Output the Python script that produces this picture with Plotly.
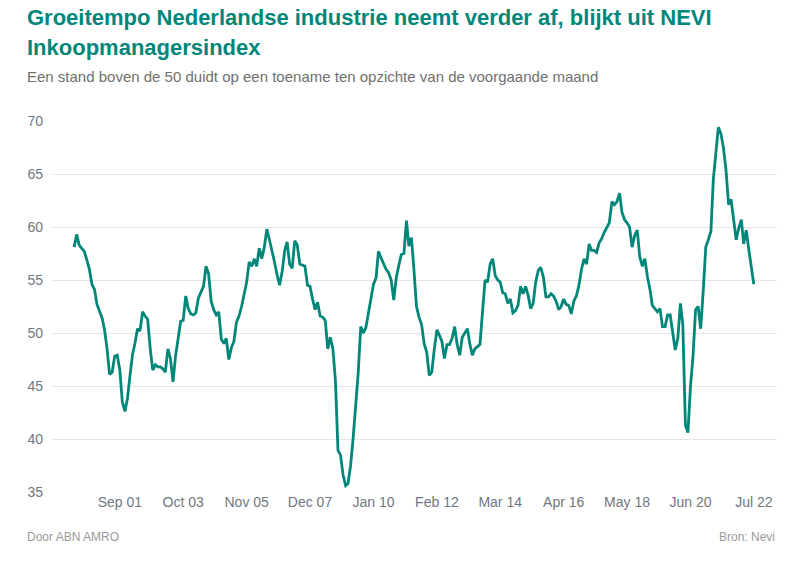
import pandas as pd
import plotly.graph_objects as go

# NEVI Inkoopmanagersindex, maandcijfers (maart 2000 t/m juli 2022)
pmi_2000 = [58.1, 59.3, 58.3, 58.0, 57.7, 56.9, 56.0, 54.6, 54.1, 52.7]  # mrt-dec
pmi_2001 = [52.0, 51.4, 50.3, 48.5, 46.1, 46.3, 47.8, 47.9, 46.5, 43.5, 42.6, 43.8]
pmi_2002 = [46.0, 48.0, 49.0, 50.4, 50.2, 52.0, 51.6, 51.3, 48.5, 46.5, 47.0, 46.8]
pmi_2003 = [46.8, 46.6, 46.3, 48.5, 47.6, 45.4, 47.8, 49.5, 51.1, 51.2, 53.5, 52.3]
pmi_2004 = [51.8, 51.7, 51.9, 53.3, 53.8, 54.4, 56.3, 55.6, 53.0, 52.2, 51.7, 52.0]
pmi_2005 = [49.4, 49.0, 49.5, 47.5, 48.6, 49.2, 51.0, 51.6, 52.5, 53.7, 54.8, 56.7]
pmi_2006 = [56.3, 57.0, 56.3, 58.0, 57.0, 58.1, 59.8, 58.8, 57.8, 56.7, 55.5, 54.5]
pmi_2007 = [55.8, 57.8, 58.6, 56.5, 56.1, 58.7, 58.3, 56.5, 56.4, 56.3, 54.5, 54.4]
pmi_2008 = [53.2, 52.2, 52.9, 51.6, 51.5, 51.2, 48.5, 49.6, 48.5, 45.5, 38.9, 38.5]
pmi_2009 = [36.6, 35.6, 35.8, 37.5, 40.0, 42.8, 46.2, 50.6, 50.0, 50.5, 51.9, 53.0]
pmi_2010 = [54.6, 55.2, 57.7, 57.1, 56.5, 56.0, 55.7, 55.0, 53.1, 55.2, 56.4, 57.4]
pmi_2011 = [57.5, 60.6, 58.2, 59.0, 56.0, 52.5, 51.5, 50.8, 49.0, 48.2, 46.0, 46.3]
pmi_2012 = [48.5, 50.3, 49.8, 49.2, 47.6, 48.9, 48.9, 49.5, 50.6, 48.9, 47.9, 49.6]
pmi_2013 = [50.0, 50.4, 49.0, 47.9, 48.5, 48.7, 48.9, 52.0, 55.0, 54.8, 56.5, 57.0]
pmi_2014 = [55.4, 55.0, 54.8, 53.8, 53.7, 52.8, 53.2, 51.9, 52.1, 52.6, 54.4, 53.7]
pmi_2015 = [54.4, 53.5, 52.3, 52.8, 54.8, 55.9, 56.2, 55.3, 53.4, 53.4, 53.7, 53.5]
pmi_2016 = [53.0, 52.2, 52.5, 53.2, 52.7, 52.6, 51.8, 53.0, 53.5, 54.5, 56.0, 57.0]
pmi_2017 = [56.5, 58.4, 57.8, 57.8, 57.6, 58.5, 58.9, 59.5, 60.0, 60.4, 62.4, 62.1]
pmi_2018 = [62.4, 63.2, 61.4, 60.7, 60.4, 60.0, 58.1, 59.2, 59.7, 57.2, 56.3, 57.0]
pmi_2019 = [55.3, 54.1, 52.6, 52.3, 52.0, 52.3, 50.6, 50.6, 51.7, 51.7, 50.0, 48.4]
pmi_2020 = [49.5, 52.8, 50.8, 41.3, 40.6, 45.0, 47.8, 52.2, 52.5, 50.4, 54.0, 58.1]
pmi_2021 = [58.8, 59.6, 64.4, 67.1, 69.4, 68.8, 67.5, 65.4, 62.1, 62.6, 60.6, 58.8]
pmi_2022 = [59.9, 60.7, 58.4, 59.7, 57.9, 56.0, 54.6]  # jan-jul

first_month = "2000-03-01"

tick_dates = ["2001-09-01", "2003-10-01", "2005-11-01", "2007-12-01", "2010-01-01",
              "2012-02-01", "2014-03-01", "2016-04-01", "2018-05-01", "2020-06-01",
              "2022-07-01"]
tick_text = ["Sep 01", "Oct 03", "Nov 05", "Dec 07", "Jan 10", "Feb 12",
             "Mar 14", "Apr 16", "May 18", "Jun 20", "Jul 22"]
y_ticks = [35, 40, 45, 50, 55, 60, 65, 70]

pmi = (pmi_2000 + pmi_2001 + pmi_2002 + pmi_2003 + pmi_2004 + pmi_2005 + pmi_2006
       + pmi_2007 + pmi_2008 + pmi_2009 + pmi_2010 + pmi_2011 + pmi_2012 + pmi_2013
       + pmi_2014 + pmi_2015 + pmi_2016 + pmi_2017 + pmi_2018 + pmi_2019 + pmi_2020
       + pmi_2021 + pmi_2022)
months = pd.date_range(first_month, periods=len(pmi), freq="MS")

teal = "#00877a"
grey = "#6e7781"
font = "Liberation Sans, Arial, sans-serif"

# plot area in page pixels
W, H = 801, 577
L, R, T, B = 52, 777, 121, 492


def px(x):
    return (x - L) / (R - L)


def py(y):
    return (B - y) / (B - T)


fig = go.Figure()
fig.add_trace(go.Scatter(x=months, y=pmi, mode="lines",
                         line=dict(color=teal, width=2.8),
                         hoverinfo="x+y", showlegend=False))

fig.update_layout(
    width=W, height=H,
    margin=dict(l=L, r=W - R, t=T, b=H - B),
    paper_bgcolor="white", plot_bgcolor="white",
    font=dict(family=font, color=grey, size=14),
    xaxis=dict(range=["1999-06-10", "2023-04-05"], tickvals=tick_dates,
               ticktext=tick_text, showgrid=False, zeroline=False,
               showline=False, ticks="", tickfont=dict(size=14, color=grey)),
    yaxis=dict(range=[35, 70], tickvals=y_ticks, showgrid=True,
               gridcolor="#e5e5e5", gridwidth=1, zeroline=False,
               showline=False, ticks="", ticklabelstandoff=8,
               tickfont=dict(size=14, color=grey)),
)

notes = [
    dict(text="<b>Groeitempo Nederlandse industrie neemt verder af, blijkt uit NEVI</b>",
         x=px(25), y=py(17), xanchor="left", size=22, color=teal),
    dict(text="<b>Inkoopmanagersindex</b>",
         x=px(25), y=py(47), xanchor="left", size=22, color=teal),
    dict(text="Een stand boven de 50 duidt op een toename ten opzichte van de voorgaande maand",
         x=px(25), y=py(76), xanchor="left", size=15, color="#707070"),
    dict(text="Door ABN AMRO", x=px(25), y=py(537), xanchor="left", size=12, color="#9a9a9a"),
    dict(text="Bron: Nevi", x=px(777), y=py(537), xanchor="right", size=12, color="#9a9a9a"),
]
for n in notes:
    fig.add_annotation(text=n["text"], x=n["x"], y=n["y"], xref="paper", yref="paper",
                       xanchor=n["xanchor"], yanchor="middle", showarrow=False,
                       font=dict(family=font, size=n["size"], color=n["color"]))

# drop the default 8px page margin so the figure fills the window
fig.write_html("out.html", config={"displayModeBar": False},
               post_script="document.body.style.margin = '0px';")
